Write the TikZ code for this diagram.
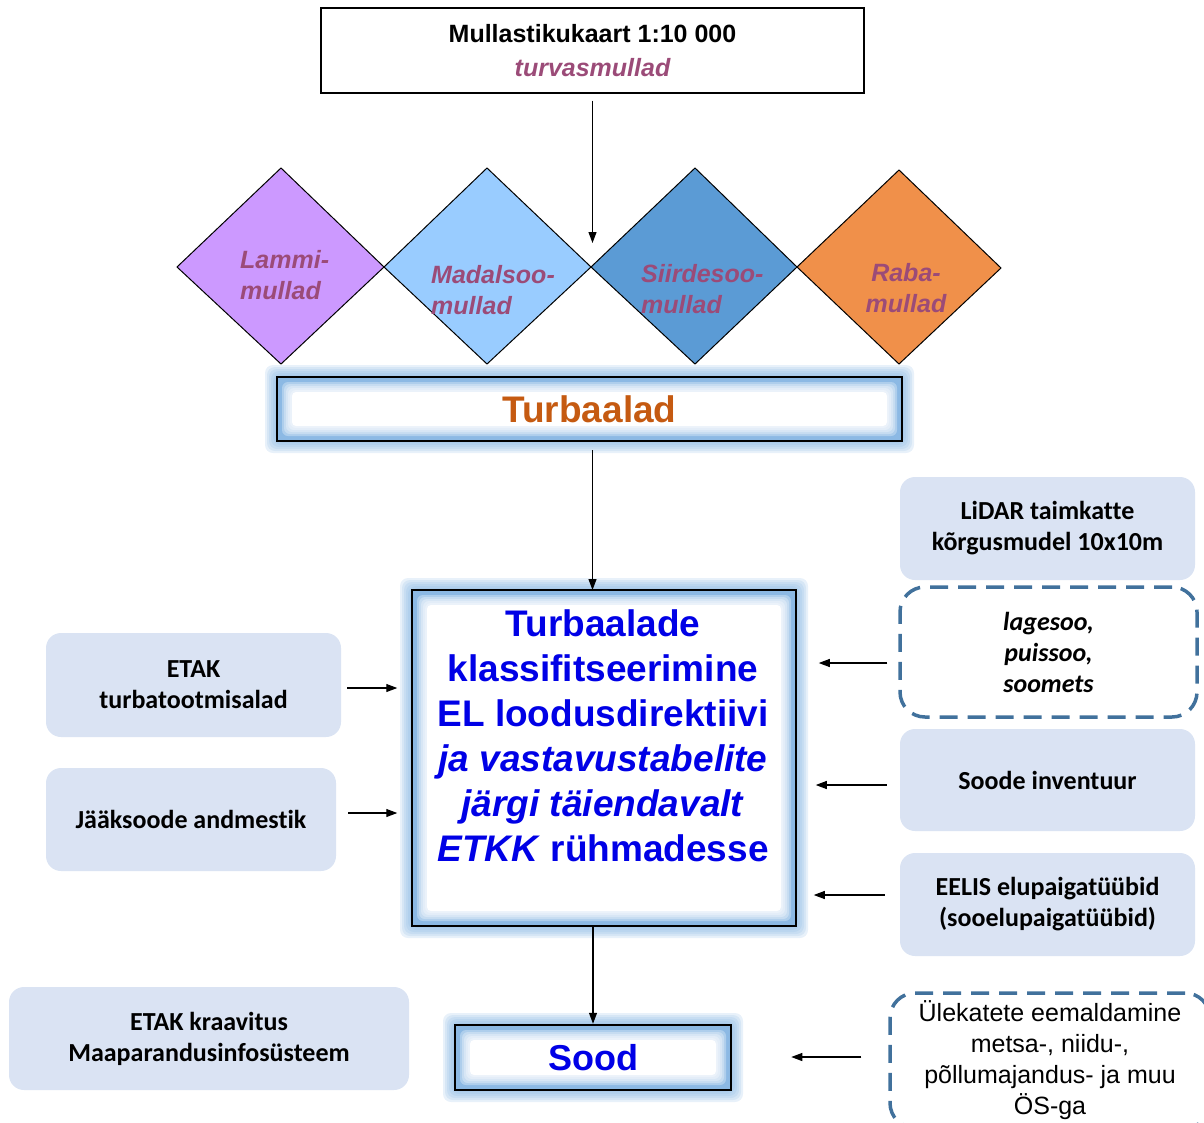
\documentclass[tikz,border=0pt]{standalone}
\usepackage{fontspec}
\setmainfont{Liberation Sans}
\newfontfamily\calfont[Ligatures=CommonOff]{Carlito}
\usetikzlibrary{arrows.meta}
\definecolor{mauve}{RGB}{155,75,120}
\definecolor{lilac}{RGB}{204,153,255}
\definecolor{lblue}{RGB}{153,204,255}
\definecolor{mblue}{RGB}{91,155,213}
\definecolor{orng}{RGB}{240,144,74}
\definecolor{boxfill}{RGB}{218,227,243}
\definecolor{dashblue}{RGB}{65,113,156}
\definecolor{glowc}{RGB}{140,185,228}
\definecolor{rust}{RGB}{197,90,17}
\definecolor{tblue}{RGB}{0,0,230}
\newcommand\glowrect[4]{%
  \foreach \d in {2,4,...,12} {\fill[glowc, opacity=0.2, rounded corners=8pt] (#1-\d, #2-\d) rectangle (#3+\d, #4+\d);}
  \fill[glowc] (#1,#2) rectangle (#3,#4);
  \foreach \d in {5,7,...,15} {\fill[white, opacity=0.3, rounded corners=6pt] (#1+\d, #2+\d) rectangle (#3-\d, #4-\d);}
  \fill[white, rounded corners=4pt] (#1+15, #2+15) rectangle (#3-15, #4-15);
}
\tikzset{
  arr/.style={-{Triangle[length=11pt,width=8pt]}, line width=1.1pt},
  lbox/.style={fill=boxfill, rounded corners=15pt, inner sep=0pt, align=center, font=\calfont\bfseries\fontsize{26}{31}\selectfont},
  dbox/.style={draw=dashblue, line width=3.5pt, dash pattern=on 18pt off 10pt, rounded corners=25pt, inner sep=0pt, align=center},
  dtext/.style={text=mauve, font=\bfseries\itshape\fontsize{25}{31}\selectfont, inner sep=0pt},
  diam/.style={draw=black, line width=1pt},
  frame/.style={draw=black, inner sep=0pt}
}
\begin{document}
\begin{tikzpicture}[x=1pt, y=-1pt]
\useasboundingbox (0,0) rectangle (1204,1122);
% top map box
\node[frame, line width=1.3pt, minimum width=543pt, minimum height=85pt, align=center,
      font=\bfseries\fontsize{25}{34}\selectfont] (map) at (592.5,50.5)
      {Mullastikukaart 1:10 000\\ \textcolor{mauve}{\itshape turvasmullad}};
\coordinate (split) at (592.5,243);
% diamonds
\filldraw[diam, fill=lilac] (177,267) -- (281,168) -- (384,267) -- (281,364) -- cycle;
\filldraw[diam, fill=lblue] (384,267) -- (487,168) -- (591,267) -- (487,364) -- cycle;
\filldraw[diam, fill=mblue] (591,267) -- (695,168) -- (797,267) -- (695,364) -- cycle;
\filldraw[diam, fill=orng] (797,267) -- (899,170) -- (1001,268) -- (899,364) -- cycle;
\node[dtext, anchor=west, align=left] (lammi) at (240,275.5) {Lammi-\\mullad};
\node[dtext, anchor=west, align=left] (madal) at (431,290.5) {Madalsoo-\\mullad};
\node[dtext, anchor=west, align=left] (siirde) at (641,289) {Siirdesoo-\\mullad};
\node[dtext, align=center] (raba) at (906,288.5) {Raba-\\mullad};
\draw[arr, shorten <=7pt] (map.south) -- (split);
% Turbaalad
\glowrect{277}{377}{902}{441}
\node[frame, line width=2.5pt, minimum width=625pt, minimum height=64pt, text=rust,
      font=\bfseries\fontsize{37}{40}\selectfont] (turb) at (589.5,409) {Turbaalad};
% main box
\glowrect{412}{590}{796}{926}
\node[frame, line width=1.5pt, minimum width=384pt, minimum height=336pt] (cls) at (604,758) {};
\node[text=tblue, font=\bfseries\fontsize{37}{45}\selectfont, align=center, inner sep=0pt] (clst) at (603,736)
  {Turbaalade\\klassifitseerimine\\EL loodusdirektiivi\\\textit{ja vastavustabelite}\\\textit{järgi täiendavalt}\\\textit{ETKK} rühmadesse};
\coordinate (clsin) at (592.5,590);
\draw[arr, shorten <=8pt] (turb.south -| clsin) -- (clsin);
% Sood
\glowrect{455}{1025}{731}{1090}
\node[frame, line width=2.5pt, minimum width=276pt, minimum height=65pt, text=tblue,
      font=\bfseries\fontsize{36}{40}\selectfont] (sood) at (593,1057.5) {Sood};
\draw[arr] (cls.south -| sood.north) -- (sood.north);
% left boxes
\node[lbox, minimum width=295pt, minimum height=104pt] (etak) at (193.5,685) {ETAK\\turbatootmisalad};
\node[lbox, minimum width=290pt, minimum height=103pt] (jaak) at (191,819.5) {Jääksoode andmestik};
\node[lbox, minimum width=400pt, minimum height=103pt] (kraav) at (209,1038.5) {ETAK kraavitus\\Maaparandusinfosüsteem};
% right boxes
\node[lbox, minimum width=295pt, minimum height=103pt] (lidar) at (1047.5,528.5) {LiDAR taimkatte\\kõrgusmudel 10x10m};
\node[dbox, minimum width=297pt, minimum height=130pt, font=\calfont\bfseries\itshape\fontsize{26}{31}\selectfont] (lage) at (1048.5,652) {lagesoo,\\puissoo,\\soomets};
\node[lbox, minimum width=295pt, minimum height=102pt] (inv) at (1047.5,780) {Soode inventuur};
\node[lbox, minimum width=295pt, minimum height=103pt] (eelis) at (1047.5,904.5) {EELIS elupaigatüübid\\(sooelupaigatüübid)};
\node[dbox, minimum width=320pt, minimum height=135pt, font=\fontsize{25}{31}\selectfont] (ulek) at (1050,1060.5)
  {Ülekatete eemaldamine\\metsa-, niidu-,\\põllumajandus- ja muu\\ÖS-ga};
% input arrows
\draw[arr, shorten <=6pt, shorten >=14pt] ([yshift=-3pt]etak.east) -- ([yshift=-3pt]etak.east -| cls.west);
\draw[arr, shorten <=12pt, shorten >=14pt] ([yshift=6.5pt]jaak.east) -- ([yshift=6.5pt]jaak.east -| cls.west);
\draw[arr, shorten <=11pt, shorten >=22pt] ([yshift=-11pt]lage.west) -- ([yshift=-11pt]lage.west -| cls.east);
\draw[arr, shorten <=13pt, shorten >=19pt] ([yshift=-5pt]inv.west) -- ([yshift=-5pt]inv.west -| cls.east);
\draw[arr, shorten <=15pt, shorten >=17pt] ([yshift=9.5pt]eelis.west) -- ([yshift=9.5pt]eelis.west -| cls.east);
\draw[arr, shorten <=27pt, shorten >=59pt] ([yshift=3.5pt]ulek.west) -- ([yshift=3.5pt]ulek.west -| sood.east);
\end{tikzpicture}
\end{document}
